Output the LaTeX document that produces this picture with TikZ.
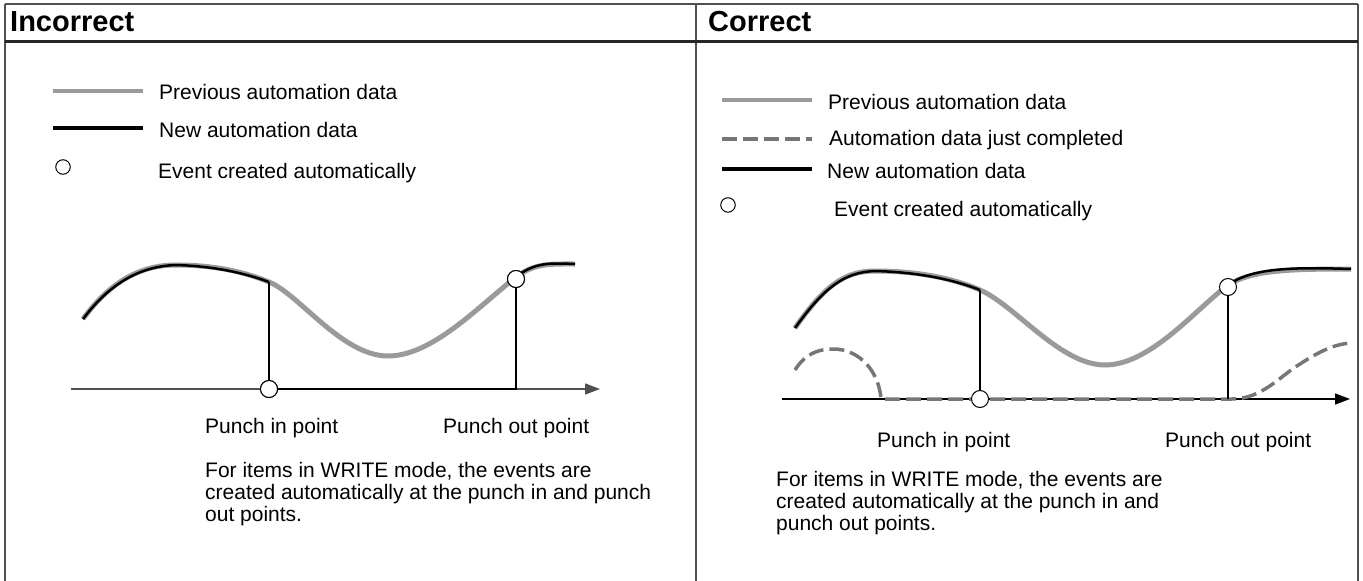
\documentclass[tikz,border=0pt]{standalone}
\usepackage{fontspec}
\setmainfont{Liberation Sans}
\usetikzlibrary{arrows.meta}
\definecolor{prevgray}{HTML}{9A9A9A}
\definecolor{donegray}{HTML}{767676}
\definecolor{framegray}{HTML}{505050}
\tikzset{
  prevline/.style={prevgray, line width=5pt},
  newline/.style={black, line width=2.5pt},
  doneline/.style={donegray, line width=3.5pt, dash pattern=on 15pt off 6pt},
  legprev/.style={prevgray, line width=4.5pt},
  legnew/.style={black, line width=4pt},
  legdone/.style={donegray, line width=4.5pt, dash pattern=on 15pt off 6pt},
  evt/.style={circle, draw=black, fill=white, line width=1pt, minimum size=17pt, inner sep=0pt},
  legevt/.style={circle, draw=black, fill=white, line width=1pt, minimum size=14.5pt, inner sep=0pt},
  txt/.style={anchor=base west, inner sep=0pt, font=\fontsize{21}{22}\selectfont},
  para/.style={anchor=north west, inner sep=0pt, align=left, font=\fontsize{21}{22}\selectfont},
  head/.style={anchor=base west, inner sep=0pt, font=\fontsize{29}{31}\selectfont\bfseries},
  vline/.style={black, line width=1.5pt},
  axisline/.style={line width=1.5pt, -{Triangle[length=15pt,width=11pt]}},
}
\begin{document}
\begin{tikzpicture}[x=1pt,y=-1pt]
\useasboundingbox (0,0) rectangle (1363,581);
% frame
\draw[framegray, line width=1.5pt] (5,4) -- (1358,4);
\draw[framegray, line width=2pt] (5,4) -- (5,581);
\draw[framegray, line width=2pt] (1358,4) -- (1358,581);
\draw[framegray, line width=1.5pt] (696,4) -- (696,581);
\draw[black!85, line width=3pt] (5,41.5) -- (1358,41.5);
\node[head] (h1) at (10,31) {Incorrect};
\node[head] (h2) at (708,31) {Correct};

% ---------- LEFT legend ----------
\coordinate (lg1a) at (53,91); \coordinate (lg1b) at (143,91);
\draw[legprev] (lg1a) -- (lg1b);
\node[txt] (lt1) at (159,99) {Previous automation data};
\coordinate (lg2a) at (53,128); \coordinate (lg2b) at (143,128);
\draw[legnew] (lg2a) -- (lg2b);
\node[txt] (lt2) at (159,137) {New automation data};
\node[legevt] (lc) at (63,167) {};
\node[txt] (lt3) at (158,178) {Event created automatically};

% ---------- LEFT diagram ----------
\coordinate (lS) at (83,319);
\coordinate (lP) at (176,265);
\coordinate (lA) at (269,282);
\coordinate (lM) at (388,356);
\coordinate (lC) at (516,277);
\coordinate (lE) at (575,264);
\draw[prevline] (lS) .. controls (110,282) and (140,265) .. (lP)
  .. controls (215,265) and (245,272) .. (lA)
  .. controls (299,294) and (342,356) .. (lM)
  .. controls (432,356) and (478,307) .. (lC)
  .. controls (535,263) and (550,264) .. (lE);
\draw[newline, yshift=-1.2pt] (lS) .. controls (110,282) and (140,265) .. (lP)
  .. controls (215,265) and (245,272) .. (lA);
\draw[newline, yshift=1pt] (lC) .. controls (535,263) and (550,264) .. (lE);
\coordinate (lax0) at (71,389);
\coordinate (lax1) at (600,389);
\draw[axisline, framegray] (lax0) -- (lax1);
\node[evt] (lin) at (269,389) {};
\node[evt] (lout) at (516,279) {};
\coordinate (lcorner) at (516,389);
\draw[vline] (lA) -- (lin.north);
\draw[newline] (lin.east) -- (lcorner) -- (lout.south);
\node[evt] at (lin) {};
\node[evt] at (lout) {};
\node[txt] (lpin) at (205,433) {Punch in point};
\node[txt] (lpout) at (443,433) {Punch out point};
\node[para] (lpara) at (205,462) {For items in WRITE mode, the events are\\created automatically at the punch in and punch\\out points.};

% ---------- RIGHT legend ----------
\coordinate (rg1a) at (722,100); \coordinate (rg1b) at (812,100);
\draw[legprev] (rg1a) -- (rg1b);
\node[txt] (rt1) at (828,109) {Previous automation data};
\coordinate (rg2a) at (722,139); \coordinate (rg2b) at (812,139);
\draw[legdone] (rg2a) -- (rg2b);
\node[txt] (rt2) at (829,145) {Automation data just completed};
\coordinate (rg3a) at (722,169); \coordinate (rg3b) at (812,169);
\draw[legnew] (rg3a) -- (rg3b);
\node[txt] (rt3) at (827,178) {New automation data};
\node[legevt] (rc) at (728,205) {};
\node[txt] (rt4) at (834,216) {Event created automatically};

% ---------- RIGHT diagram ----------
\coordinate (rS) at (795,328);
\coordinate (rP) at (875,271);
\coordinate (rA) at (980,290);
\coordinate (rM) at (1105,365);
\coordinate (rC) at (1228,285);
\coordinate (rE) at (1351,269);
\draw[prevline] (rS) .. controls (825,285) and (845,271) .. (rP)
  .. controls (920,271) and (955,279) .. (rA)
  .. controls (1015,305) and (1060,365) .. (rM)
  .. controls (1150,365) and (1195,310) .. (rC)
  .. controls (1252,270) and (1290,269) .. (rE);
\draw[newline, yshift=-1.2pt] (rS) .. controls (825,285) and (845,271) .. (rP)
  .. controls (920,271) and (955,279) .. (rA);
\draw[newline, yshift=2pt] (rC) .. controls (1252,270) and (1290,269) .. (rE);
\coordinate (rax0) at (782,399);
\coordinate (rax1) at (1350,399);
\draw[axisline, black] (rax0) -- (rax1);
\coordinate (rd0) at (795,370);
\coordinate (rd1) at (833,349);
\coordinate (rd2) at (881,399);
\coordinate (rd3) at (1232,399);
\coordinate (rd4) at (1300,364);
\coordinate (rd5) at (1351,343);
\draw[doneline] (rd0) .. controls (805,354) and (818,349) .. (rd1)
  .. controls (860,349) and (879,372) .. (rd2) -- (rd3)
  .. controls (1262,399) and (1280,376) .. (rd4)
  .. controls (1320,351) and (1335,344) .. (rd5);
\node[evt] (rin) at (980,399) {};
\node[evt] (rout) at (1228,287) {};
\coordinate (rcorner) at (1228,399);
\draw[vline] (rA) -- (rin.north);
\draw[vline] (rcorner) -- (rout.south);
\node[txt] (rpin) at (877,447) {Punch in point};
\node[txt] (rpout) at (1165,447) {Punch out point};
\node[para] (rpara) at (776,471) {For items in WRITE mode, the events are\\created automatically at the punch in and\\punch out points.};
\end{tikzpicture}
\end{document}
